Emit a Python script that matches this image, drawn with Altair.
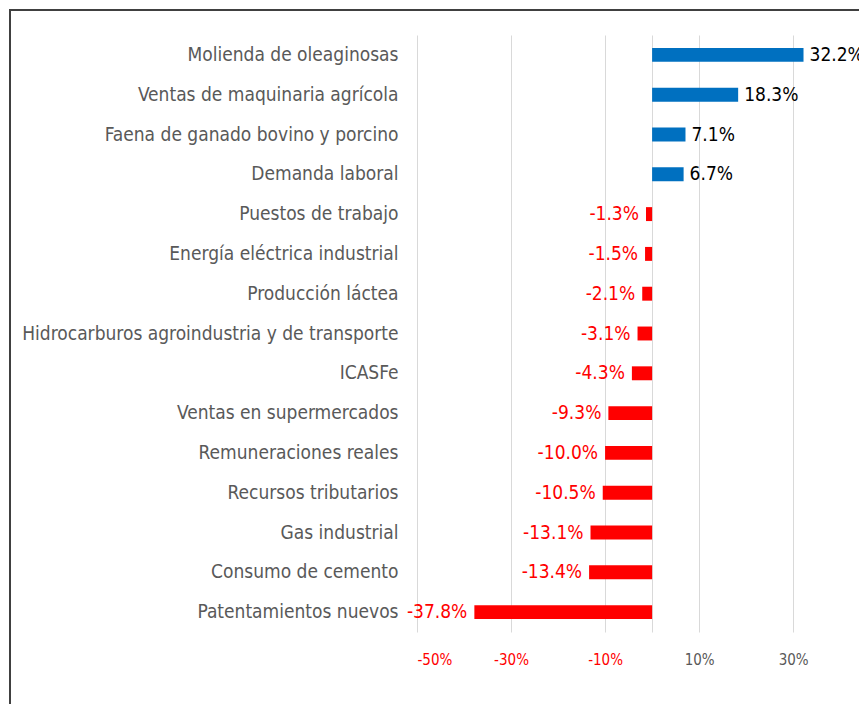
import altair as alt
import pandas as pd

categories = [
    "Molienda de oleaginosas",
    "Ventas de maquinaria agrícola",
    "Faena de ganado bovino y porcino",
    "Demanda laboral",
    "Puestos de trabajo ",
    "Energía eléctrica industrial",
    "Producción láctea",
    "Hidrocarburos agroindustria y de transporte",
    "ICASFe",
    "Ventas en supermercados",
    "Remuneraciones reales",
    "Recursos tributarios",
    "Gas industrial ",
    "Consumo de cemento",
    "Patentamientos nuevos",
]
values = [32.2, 18.3, 7.1, 6.7, -1.3, -1.5, -2.1, -3.1, -4.3, -9.3, -10.0, -10.5, -13.1, -13.4, -37.8]
tick_values = [-50, -30, -10, 0, 10, 30]

df = pd.DataFrame({"cat": categories, "val": values})
df["sign"] = ["pos" if v > 0 else "neg" for v in values]
df["label"] = [f"{v:.1f}%" for v in values]

FONT = "Liberation Sans Narrow, DejaVu Sans Condensed, sans-serif"

y_enc = alt.Y(
    "cat:N",
    sort=categories,
    title=None,
    scale=alt.Scale(paddingInner=0.65, paddingOuter=0.325),
    axis=alt.Axis(
        domain=False, ticks=False, labelPadding=19, labelFont=FONT,
        labelFontSize=19, labelColor="#595959", labelLimit=500,
    ),
)
x_enc = alt.X(
    "val:Q",
    title=None,
    scale=alt.Scale(domain=[-50, 44], nice=False, zero=False),
    axis=alt.Axis(
        values=tick_values, domain=False, ticks=False,
        labelExpr="datum.value == 0 ? '' : datum.value + '%'",
        labelColor=alt.expr("datum.value < 0 ? '#FF0000' : '#595959'"),
        labelFont=FONT, labelFontSize=15, labelPadding=20,
        grid=True, gridColor="#D9D9D9", gridWidth=1,
    ),
)

base = alt.Chart(df)

bars = base.mark_bar().encode(
    x=x_enc,
    y=y_enc,
    color=alt.Color("sign:N", scale=alt.Scale(domain=["pos", "neg"], range=["#0070C0", "#FF0000"]), legend=None),
)

pos_text = base.transform_filter("datum.val > 0").mark_text(
    align="left", dx=6, font=FONT, fontSize=19, color="#000000", baseline="middle"
).encode(x="val:Q", y=alt.Y("cat:N", sort=categories), text="label:N")

neg_text = base.transform_filter("datum.val < 0").mark_text(
    align="right", dx=-7, font=FONT, fontSize=19, color="#FF0000", baseline="middle"
).encode(x="val:Q", y=alt.Y("cat:N", sort=categories), text="label:N")

frame = alt.Chart(pd.DataFrame({"a": [0]})).mark_rect(
    fill="transparent", stroke="#404040", strokeWidth=2
).encode(
    x=alt.value(-407), x2=alt.value(480), y=alt.value(-25), y2=alt.value(720)
)

chart = alt.layer(frame, bars, pos_text, neg_text).properties(
    width=442,
    height=597,
    autosize=alt.AutoSizeParams(type="none"),
    padding={"left": 417, "top": 35, "right": 0, "bottom": 72},
    background="white",
).configure_view(strokeWidth=0)

chart.save("out.html", embed_options={"renderer": "svg", "actions": False})
